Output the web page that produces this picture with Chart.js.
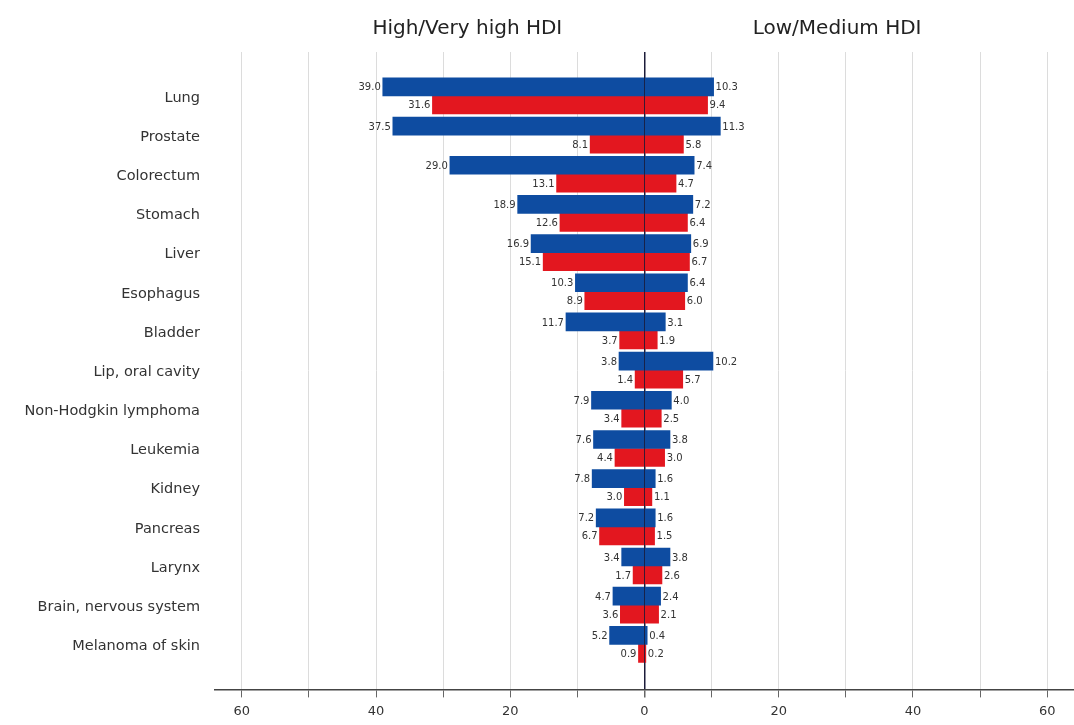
<!DOCTYPE html>
<html>
<head>
<meta charset="utf-8">
<script src="https://cdn.jsdelivr.net/npm/chart.js@4.4.1/dist/chart.umd.min.js"></script>
<style>
  html, body { margin: 0; padding: 0; background: #fff; }
  #box { width: 1074px; height: 725px; }
</style>
</head>
<body>
<div id="box"><canvas id="grafico"></canvas></div>
<script>
const categorie = ["Lung", "Prostate", "Colorectum", "Stomach", "Liver", "Esophagus", "Bladder",
  "Lip, oral cavity", "Non-Hodgkin lymphoma", "Leukemia", "Kidney", "Pancreas", "Larynx",
  "Brain, nervous system", "Melanoma of skin"];

// left side = High/Very high HDI, right side = Low/Medium HDI
const bluAlto = [39.0, 37.5, 29.0, 18.9, 16.9, 10.3, 11.7, 3.8, 7.9, 7.6, 7.8, 7.2, 3.4, 4.7, 5.2];
const bluBasso = [10.3, 11.3, 7.4, 7.2, 6.9, 6.4, 3.1, 10.2, 4.0, 3.8, 1.6, 1.6, 3.8, 2.4, 0.4];
const rossoAlto = [31.6, 8.1, 13.1, 12.6, 15.1, 8.9, 3.7, 1.4, 3.4, 4.4, 3.0, 6.7, 1.7, 3.6, 0.9];
const rossoBasso = [9.4, 5.8, 4.7, 6.4, 6.7, 6.0, 1.9, 5.7, 2.5, 3.0, 1.1, 1.5, 2.6, 2.1, 0.2];

const titoloSx = "High/Very high HDI";
const titoloDx = "Low/Medium HDI";

const BLU = "#0e4ca1";
const ROSSO = "#e3171f";
const FONT = '"DejaVu Sans", sans-serif';

const punti = (valori, segno) => valori.map((v, i) => ({ x: segno * v, y: i }));

// numeri accanto alle barre
const etichetteValori = {
  id: "etichetteValori",
  afterDatasetsDraw(chart) {
    const ctx = chart.ctx;
    ctx.save();
    ctx.font = "10px " + FONT;
    ctx.fillStyle = "#333";
    ctx.textBaseline = "middle";
    chart.data.datasets.forEach((ds, i) => {
      chart.getDatasetMeta(i).data.forEach((barra, j) => {
        const v = ds.data[j].x;
        const testo = Math.abs(v).toFixed(1);
        if (v < 0) {
          ctx.textAlign = "right";
          ctx.fillText(testo, barra.x - 2, barra.y + 1);
        } else {
          ctx.textAlign = "left";
          ctx.fillText(testo, barra.x + 2, barra.y + 1);
        }
      });
    });
    ctx.restore();
  }
};

const titoli = {
  id: "titoli",
  afterDraw(chart) {
    const ctx = chart.ctx;
    const x = chart.scales.x;
    ctx.save();
    ctx.font = "20px " + FONT;
    ctx.fillStyle = "#222";
    ctx.textAlign = "center";
    ctx.textBaseline = "alphabetic";
    ctx.fillText(titoloSx, x.getPixelForValue(-26.4), 34);
    ctx.fillText(titoloDx, x.getPixelForValue(28.7), 34);
    ctx.restore();
  }
};

const ctx = document.getElementById("grafico").getContext("2d");

new Chart(ctx, {
  type: "bar",
  data: {
    datasets: [
      { data: punti(bluAlto, -1), backgroundColor: BLU, stack: "blu", barThickness: 18 },
      { data: punti(bluBasso, 1), backgroundColor: BLU, stack: "blu", barThickness: 18 },
      { data: punti(rossoAlto, -1), backgroundColor: ROSSO, stack: "rosso", barThickness: 18 },
      { data: punti(rossoBasso, 1), backgroundColor: ROSSO, stack: "rosso", barThickness: 18 }
    ]
  },
  options: {
    indexAxis: "y",
    responsive: true,
    maintainAspectRatio: false,
    animation: false,
    layout: { padding: { top: 52, bottom: 0, left: 0, right: 0 } },
    plugins: { legend: { display: false }, tooltip: { enabled: false } },
    scales: {
      x: {
        type: "linear",
        stacked: true,
        min: -64,
        max: 64,
        border: { display: true, color: "#444", width: 1.5 },
        grid: {
          color: (c) => (c.tick && c.tick.value === 0 ? "#1c1c3a" : "#dcdcdc"),
          lineWidth: (c) => (c.tick && c.tick.value === 0 ? 1.5 : 1),
          tickColor: "#666",
          tickLength: 8
        },
        ticks: {
          stepSize: 10,
          maxTicksLimit: 50,
          includeBounds: false,
          autoSkip: false,
          maxRotation: 0,
          padding: 6,
          color: "#333",
          font: { family: FONT, size: 13 },
          callback: (v) => (v % 10 !== 0 ? null : v % 20 === 0 ? String(Math.abs(v)) : "")
        }
      },
      y: {
        type: "linear",
        reverse: true,
        offset: false,
        min: -1.12,
        max: 15.15,
        grid: { display: false, offset: false, drawTicks: true, tickLength: 15 },
        border: { display: false },
        afterFit(scale) { scale.width = 215; },
        ticks: {
          stepSize: 1,
          maxTicksLimit: 50,
          includeBounds: false,
          autoSkip: false,
          padding: 0,
          labelOffset: 2,
          color: "#333",
          font: { family: FONT, size: 14.5 },
          callback: (v) => (Number.isInteger(v) && categorie[v] !== undefined ? categorie[v] : null)
        }
      }
    }
  },
  plugins: [etichetteValori, titoli]
});
</script>
</body>
</html>
